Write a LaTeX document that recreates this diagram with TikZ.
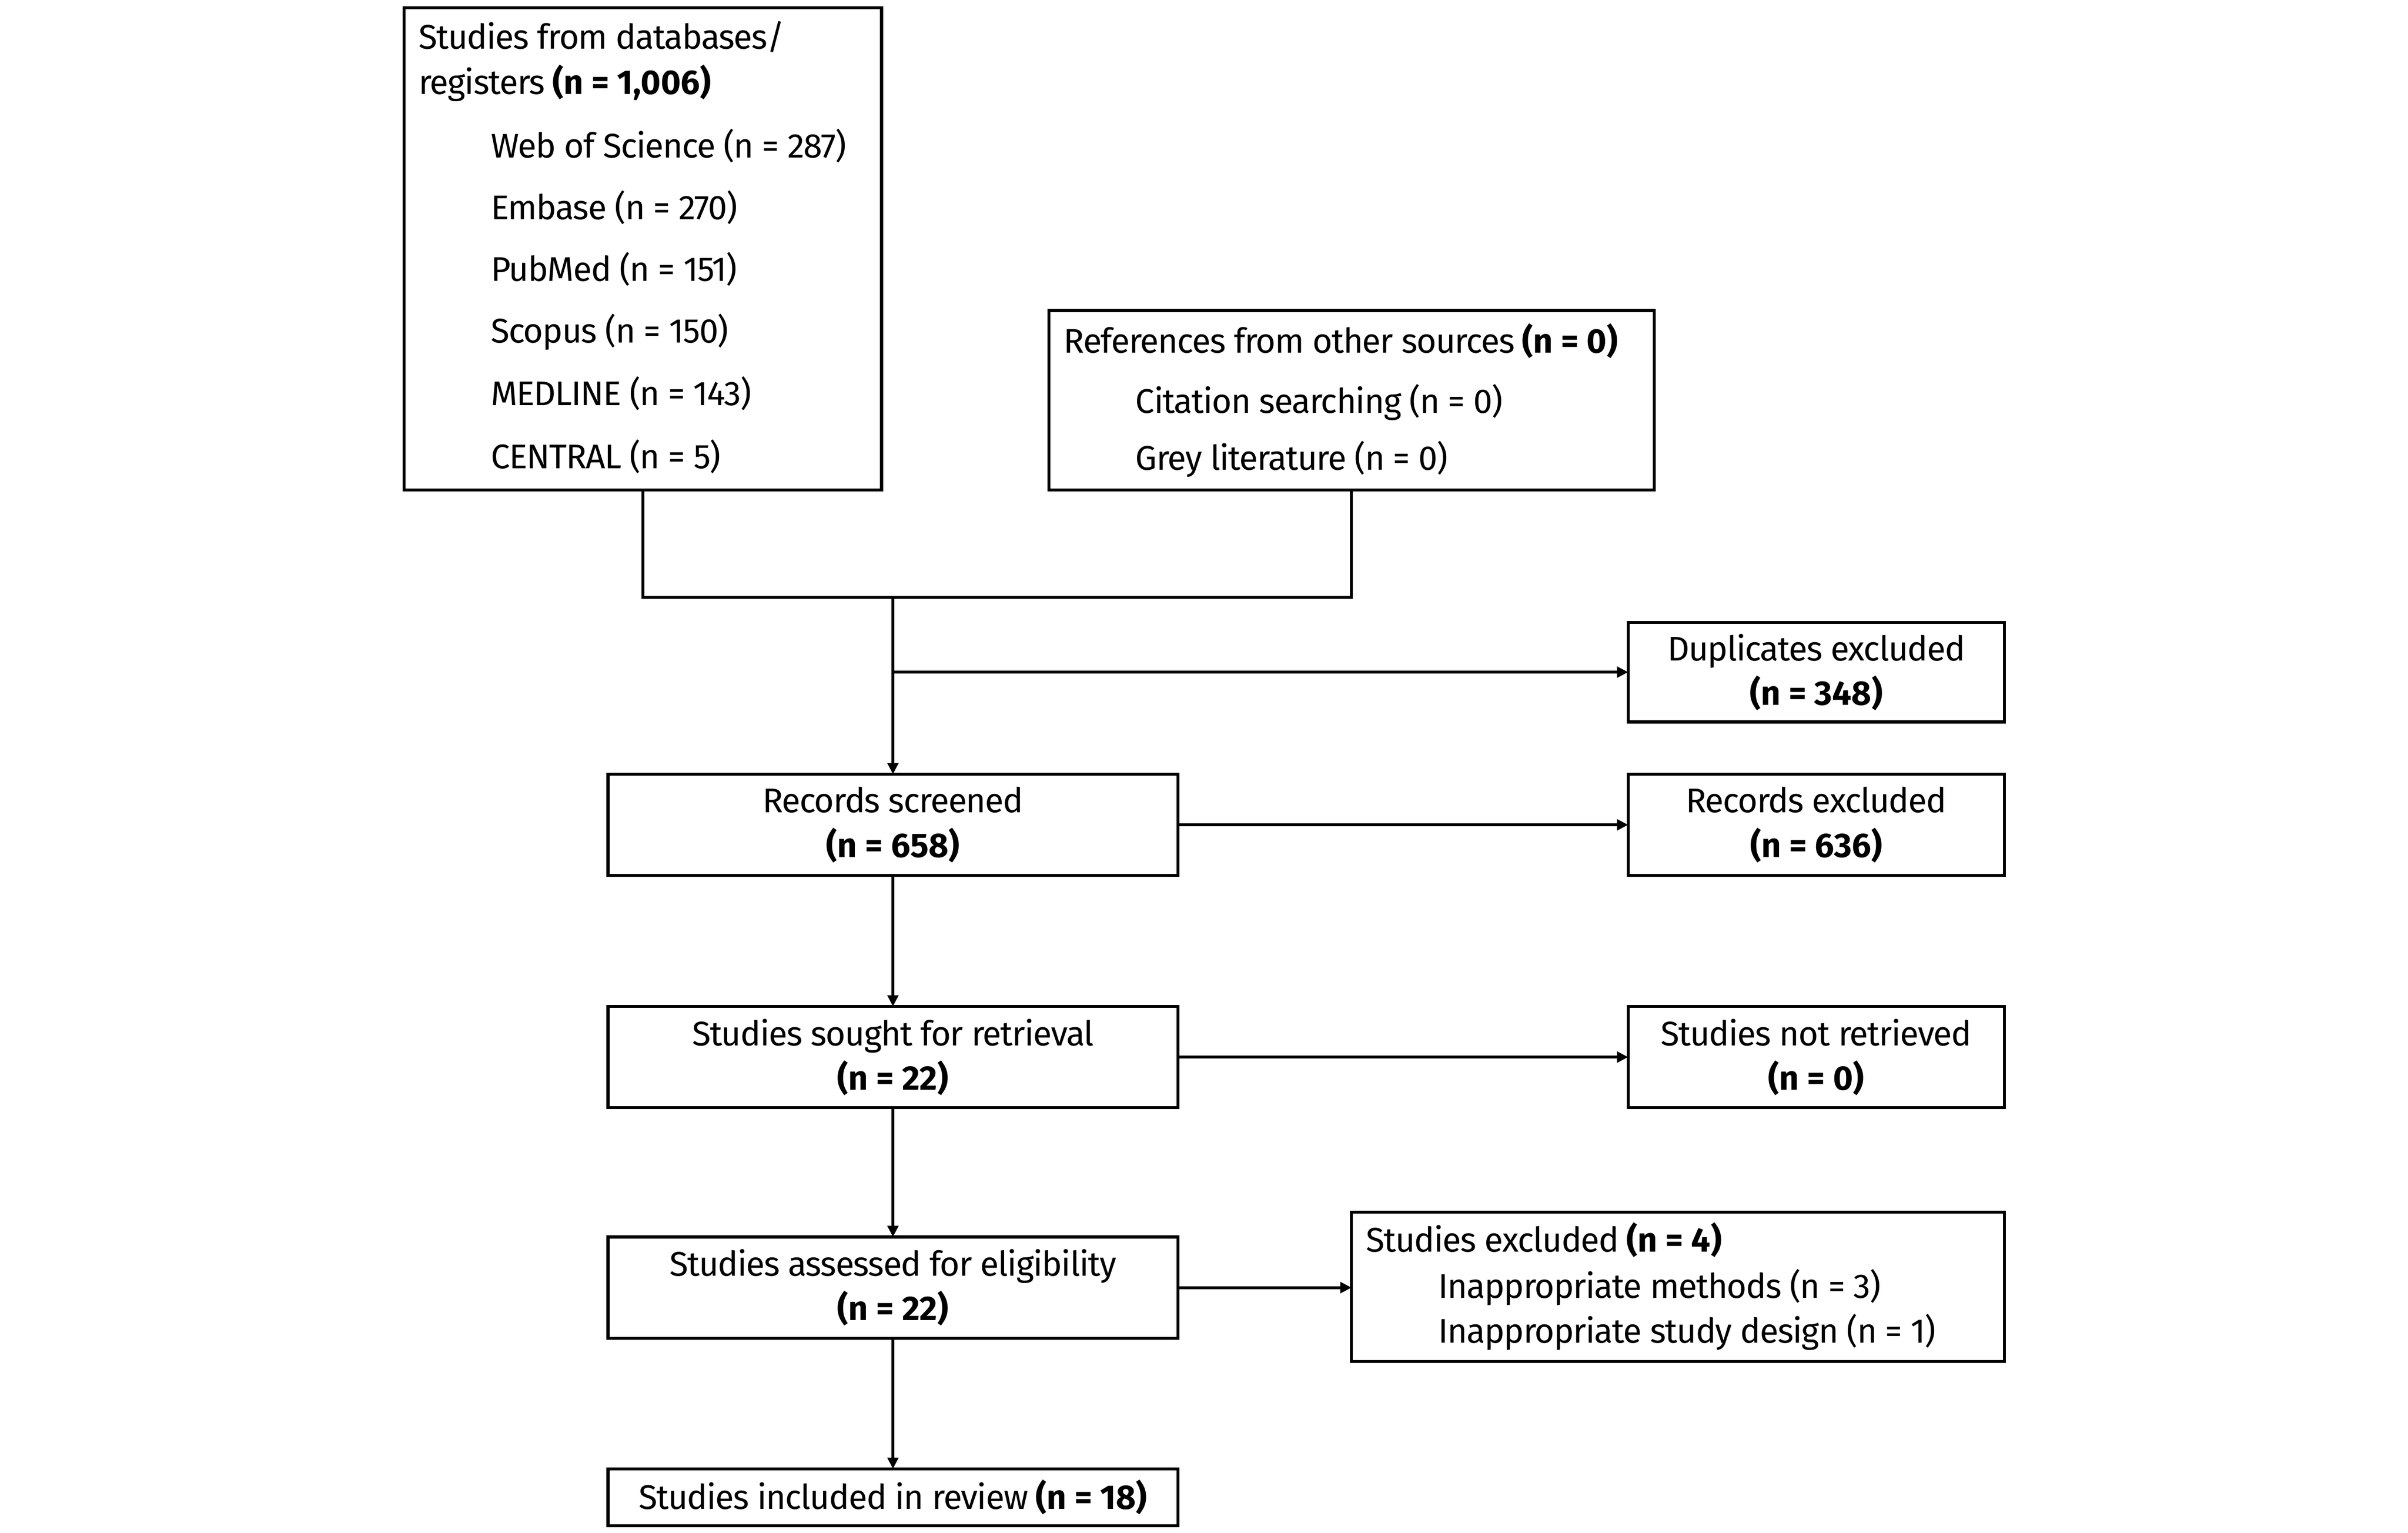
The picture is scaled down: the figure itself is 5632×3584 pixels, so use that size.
\documentclass[tikz,border=0pt]{standalone}
\usepackage{fontspec}
\setmainfont{Fira Sans}[LetterSpace=-2.5,BoldFeatures={LetterSpace=0}]
\usetikzlibrary{arrows.meta}
\begin{document}
\begin{tikzpicture}[x=0.1pt,y=-0.1pt,
  box/.style={draw=black,line width=0.7pt,inner sep=0pt,outer sep=0pt,anchor=north west},
  ctext/.style={align=center,font=\fontsize{8}{10.4}\selectfont,inner sep=0pt},
  ltext/.style={anchor=west,font=\fontsize{8}{10}\selectfont,inner sep=0pt},
  conn/.style={draw=black,line width=0.7pt},
  arr/.style={conn,-{Triangle[length=2.6pt,width=2.5pt]}}]
\useasboundingbox (0,0) rectangle (5632,3584);
% boxes
\node[box,minimum width=111.7pt,minimum height=112.8pt] (db) at (945,18) {};
\node[box,minimum width=141.6pt,minimum height=42pt] (oth) at (2453,726) {};
\node[box,minimum width=88pt,minimum height=23.3pt] (dup) at (3808,1455) {};
\node[box,minimum width=133.3pt,minimum height=23.7pt] (scr) at (1422,1810) {};
\node[box,minimum width=88pt,minimum height=23.7pt] (rex) at (3808,1810) {};
\node[box,minimum width=133.3pt,minimum height=23.7pt] (sou) at (1422,2353) {};
\node[box,minimum width=88pt,minimum height=23.7pt] (nre) at (3808,2353) {};
\node[box,minimum width=133.3pt,minimum height=23.7pt] (ass) at (1422,2892) {};
\node[box,minimum width=152.7pt,minimum height=34.9pt] (exc) at (3161,2834) {};
\node[box,minimum width=133.3pt,minimum height=13.3pt] (inc) at (1422,3434) {};
% left-aligned texts
\node[ltext] (t1) at (977,86) {Studies from databases/};
\node[ltext] (t2) at (977,194) {registers \textbf{(n = 1,006)}};
\node[ltext] (t3) at (1146,341) {Web of Science (n = 287)};
\node[ltext] (t4) at (1146,485) {Embase (n = 270)};
\node[ltext] (t5) at (1146,629) {PubMed (n = 151)};
\node[ltext] (t6) at (1146,776) {Scopus (n = 150)};
\node[ltext] (t7) at (1146,920) {MEDLINE (n = 143)};
\node[ltext] (t8) at (1146,1067) {CENTRAL (n = 5)};
\node[ltext] (o1) at (2486,797) {References from other sources \textbf{(n = 0)}};
\node[ltext] (o2) at (2654,941) {Citation searching (n = 0)};
\node[ltext] (o3) at (2654,1074) {Grey literature (n = 0)};
\node[ltext] (e1) at (3193,2899) {Studies excluded \textbf{(n = 4)}};
\node[ltext] (e2) at (3362,3010) {Inappropriate methods (n = 3)};
\node[ltext] (e3) at (3362,3114) {Inappropriate study design (n = 1)};
% centered texts
\node[ctext] at (dup.center) {Duplicates excluded\\\textbf{(n = 348)}};
\node[ctext] at (scr.center) {Records screened\\\textbf{(n = 658)}};
\node[ctext] at (rex.center) {Records excluded\\\textbf{(n = 636)}};
\node[ctext] at (sou.center) {Studies sought for retrieval\\\textbf{(n = 22)}};
\node[ctext] at (nre.center) {Studies not retrieved\\\textbf{(n = 0)}};
\node[ctext] at (ass.center) {Studies assessed for eligibility\\\textbf{(n = 22)}};
\node[ctext] at (inc.center) {Studies included in review \textbf{(n = 18)}};
% connectors
\coordinate (m) at (0,1397);
\draw[conn] (db.south) -- (db.south |- m) -- (oth.south |- m) -- (oth.south);
\draw[arr] (scr.north |- m) -- (scr.north);
\draw[arr] (scr.north |- dup.west) -- (dup.west);
\draw[arr] (scr.east) -- (rex.west);
\draw[arr] (scr.south) -- (sou.north);
\draw[arr] (sou.east) -- (nre.west);
\draw[arr] (sou.south) -- (ass.north);
\draw[arr] (ass.east) -- (ass.east -| exc.west);
\draw[arr] (ass.south) -- (inc.north);
\end{tikzpicture}
\end{document}
